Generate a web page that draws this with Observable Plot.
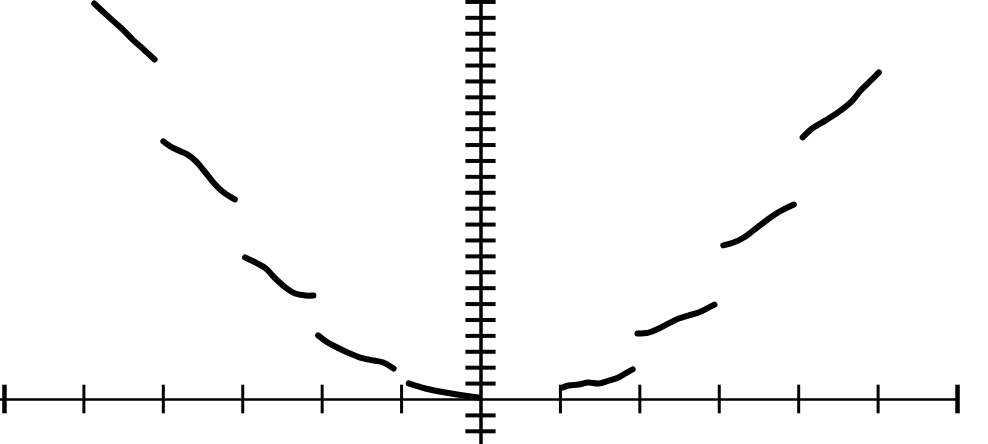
<!DOCTYPE html>
<html>
<head>
<meta charset="utf-8">
<script src="https://cdn.jsdelivr.net/npm/d3@7"></script>
<script src="https://cdn.jsdelivr.net/npm/@observablehq/plot@0.6"></script>
<style>
  html, body { margin: 0; padding: 0; background: #fff; }
  #chart svg { display: block; }
</style>
</head>
<body>
<div id="chart"></div>
<script>
// Tick positions (units)
const xTicks = [-6, -5, -4, -3, -2, -1, 1, 2, 3, 4, 5, 6];
const yTicks = [-2, -1, 1, 2, 3, 4, 5, 6, 7, 8, 9, 10, 11, 12, 13, 14, 15, 16, 17, 18, 19, 20, 21, 22, 23, 24, 25];

// Curve pieces: [x, y]
const pieceM5 = [[-4.87, 24.90], [-4.64, 23.84], [-4.50, 23.21], [-4.38, 22.60], [-4.25, 22.03], [-4.11, 21.38]];
const pieceM4 = [[-4.00, 16.23], [-3.89, 15.85], [-3.78, 15.60], [-3.70, 15.41], [-3.60, 15.03], [-3.49, 14.40], [-3.37, 13.65], [-3.24, 13.02], [-3.10, 12.58]];
const pieceM3 = [[-2.97, 8.93], [-2.84, 8.62], [-2.71, 8.24], [-2.59, 7.61], [-2.46, 7.04], [-2.34, 6.67], [-2.21, 6.54], [-2.11, 6.54]];
const pieceM2 = [[-2.05, 4.03], [-1.93, 3.58], [-1.81, 3.27], [-1.68, 2.96], [-1.52, 2.64], [-1.35, 2.45], [-1.23, 2.33], [-1.10, 1.95]];
const pieceM1 = [[-0.91, 1.01], [-0.70, 0.69], [-0.45, 0.44], [-0.13, 0.19], [-0.03, 0.13]];
const pieceP1 = [[1.03, 0.75], [1.10, 0.88], [1.23, 0.94], [1.35, 1.07], [1.48, 1.01], [1.61, 1.19], [1.73, 1.38], [1.86, 1.76], [1.91, 1.89]];
const pieceP2 = [[1.97, 4.15], [2.11, 4.21], [2.24, 4.47], [2.36, 4.78], [2.49, 5.09], [2.61, 5.28], [2.74, 5.47], [2.87, 5.79], [2.94, 5.97]];
const pieceP3 = [[3.05, 9.69], [3.18, 9.87], [3.31, 10.19], [3.43, 10.63], [3.56, 11.13], [3.68, 11.57], [3.81, 11.95], [3.94, 12.26]];
const pieceP4 = [[4.05, 16.48], [4.17, 17.04], [4.34, 17.55], [4.53, 18.18], [4.68, 18.81], [4.78, 19.43], [4.91, 20.06], [5.01, 20.57]];

const pieces = [pieceM5, pieceM4, pieceM3, pieceM2, pieceM1, pieceP1, pieceP2, pieceP3, pieceP4];
const curveData = pieces.flatMap((p, i) => p.map(([x, y]) => ({x, y, piece: i})));

const chart = Plot.plot({
  width: 988,
  height: 444,
  margin: 0,
  style: {background: "#fff"},
  x: {domain: [-6.05, 6.39], axis: null},
  y: {domain: [-2.83, 25.09], axis: null},
  marks: [
    // x axis
    Plot.ruleY([0], {x1: -6.05, x2: 6.0, stroke: "#000", strokeWidth: 2.5}),
    // y axis
    Plot.ruleX([0], {stroke: "#000", strokeWidth: 3.5}),
    // y ticks
    Plot.ruleY(yTicks, {y: d => d, x1: -0.19, x2: 0.19, stroke: "#000", strokeWidth: 4}),
    // x ticks
    Plot.ruleX(xTicks, {x: d => d, y1: -0.9, y2: 0.9, stroke: "#000", strokeWidth: d => Math.abs(d) === 6 ? 4.5 : 3}),
    // curve pieces
    Plot.line(curveData, {x: "x", y: "y", z: "piece", stroke: "#000", strokeWidth: 6, curve: "catmull-rom", strokeLinecap: "round", strokeLinejoin: "round"})
  ]
});
document.getElementById("chart").appendChild(chart);
</script>
</body>
</html>
